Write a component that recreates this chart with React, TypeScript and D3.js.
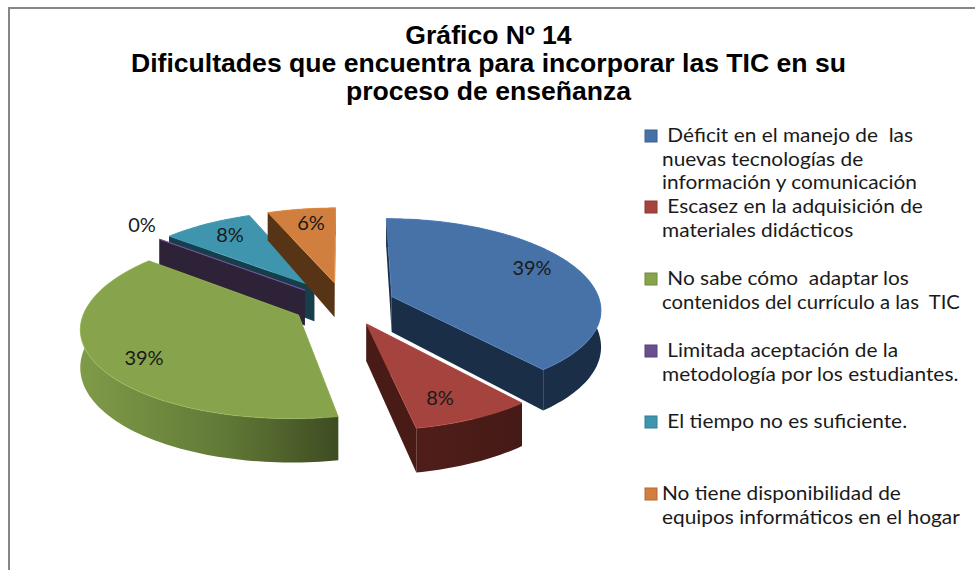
import React from "react";
import * as d3 from "d3";

const categories = ["Déficit", "Escasez", "No sabe", "Limitada", "El tiempo", "No tiene"];
const values = [39, 8, 39, 0, 8, 6];
const valueLabels = ["39%", "8%", "39%", "0%", "8%", "6%"];
const topColors = ["#4672a8", "#a5433f", "#87a34c", "#6a4e8e", "#3f95ad", "#d17f3e"];
const wallColors = ["#1b2e47", "#481b17", "#3e4c22", "#2e2238", "#173e4b", "#583416"];
const titleLines = [
  "Gráfico Nº 14",
  "Dificultades que encuentra para incorporar las TIC en su",
  "proceso de enseñanza",
];
const legendLines = [
  [" Déficit en el manejo de  las", "nuevas tecnologías de", "información y comunicación"],
  [" Escasez en la adquisición de", "materiales didácticos"],
  [" No sabe cómo  adaptar los", "contenidos del currículo a las  TIC"],
  [" Limitada aceptación de la", "metodología por los estudiantes."],
  [" El tiempo no es suficiente."],
  ["No tiene disponibilidad de", "equipos informáticos en el hogar"],
];
const legendBaselines = [142, 213, 285, 357, 428, 500];
const labelPositions = [[532, 275], [440, 405], [144, 365], [142, 232], [230, 242], [311, 230]];
const drawOrder = [4, 5, 3, 2, 0, 1];

const cx = 344, cy = 304, rx = 212, rxRight = 209, ryBack = 90, ryFront = 87, persp = 0.13, explode = 0.245;
const sx = d3.scaleLinear().domain([-1, 0, 1]).range([cx - rx, cx, cx + rxRight]);
const sy = d3.scaleLinear().domain([-1, 0, 1]).range([cy - ryBack, cy, cy + ryFront]);
const project = (u: number, v: number, drop = 0): [number, number] => {
  const s = 1 / (1 - persp * v);
  return [sx(u * s), sy(v * s) + drop * (36 + 7 * v)];
};
const line = d3.line();

export default function App() {
  const arcs = d3.pie<number>().sort(null).startAngle(0).endAngle(2 * Math.PI)(values);
  const slices = arcs.map((a, i) => {
    const mid = (a.startAngle + a.endAngle) / 2;
    const ou = explode * Math.sin(mid), ov = -explode * Math.cos(mid);
    const pt = (t: number, drop = 0) => project(ou + Math.sin(t), ov - Math.cos(t), drop);
    const apex = (drop = 0) => project(ou, ov, drop);
    const n = Math.max(2, Math.ceil((a.endAngle - a.startAngle) * 40));
    const ts = d3.range(n + 1).map((k) => a.startAngle + ((a.endAngle - a.startAngle) * k) / n);
    const top = [apex(), ...ts.map((t) => pt(t))];
    const rim = [...ts.map((t) => pt(t)), ...ts.slice().reverse().map((t) => pt(t, 1))];
    const wall = (t: number) => [apex(), pt(t), pt(t, 1), apex(1)];
    return { i, top, rim, startWall: wall(a.startAngle), endWall: wall(a.endAngle) };
  });
  return (
    <svg width={975} height={570} style={{ position: "absolute", left: 0, top: 0, background: "#fff" }}>
      <defs>
        <linearGradient id="greenRim" x1="0" x2="1" y1="0" y2="0">
          <stop offset="0" stopColor="#7f9b48" />
          <stop offset="0.55" stopColor="#627a37" />
          <stop offset="1" stopColor="#3e4c22" />
        </linearGradient>
        <linearGradient id="redRim" x1="0" x2="1" y1="0" y2="0">
          <stop offset="0" stopColor="#501e1a" />
          <stop offset="1" stopColor="#451a16" />
        </linearGradient>
      </defs>
      <path d="M975,8H9V570" fill="none" stroke="#868686" strokeWidth={2} />
      <g
        fontFamily="'Liberation Sans', Arial, sans-serif"
        fontWeight={700}
        fontSize={25}
        fill="#000"
        textAnchor="middle"
        transform="translate(488.5,0) scale(1.064,1)"
      >
        {titleLines.map((t, i) => (
          <text key={i} x={0} y={[44, 72, 100][i]}>{t}</text>
        ))}
      </g>
      {drawOrder.map((i) => {
        const s = slices[i];
        const rimFill = i === 2 ? "url(#greenRim)" : i === 1 ? "url(#redRim)" : wallColors[i];
        return (
          <g key={categories[i]}>
            <path
              d={line(s.startWall)!}
              fill={wallColors[i]}
              stroke={values[i] === 0 ? topColors[i] : "none"}
              strokeWidth={0.8}
            />
            <path d={line(s.endWall)!} fill={wallColors[i]} />
            <path d={line(s.rim)! + "Z"} fill={rimFill} />
            <path
              d={line(s.top)! + "Z"}
              fill={values[i] === 0 ? "none" : topColors[i]}
              stroke={d3.color(topColors[i])!.brighter(0.5).formatHex()}
              strokeWidth={0.6}
            />
          </g>
        );
      })}
      <g fontFamily="Lato, sans-serif" fontSize={20} fill="#1a1a1a" textAnchor="middle">
        {valueLabels.map((t, i) => (
          <text key={i} x={labelPositions[i][0]} y={labelPositions[i][1]}>{t}</text>
        ))}
      </g>
      {legendLines.map((lines, i) => (
        <g key={i}>
          <rect
            x={645}
            y={legendBaselines[i] - 12}
            width={12}
            height={12}
            fill={topColors[i]}
            stroke={d3.color(topColors[i])!.darker(0.5).formatHex()}
          />
          {lines.map((l, j) => (
            <text
              key={j}
              transform={`translate(662,${legendBaselines[i] + j * 23.6}) scale(${l.endsWith("TIC") ? 1.04 : 1.07},1)`}
              fontFamily="Lato, sans-serif"
              fontSize={19.5}
              fill="#1a1a1a"
              style={{ whiteSpace: "pre" }}
            >
              {l}
            </text>
          ))}
        </g>
      ))}
    </svg>
  );
}
